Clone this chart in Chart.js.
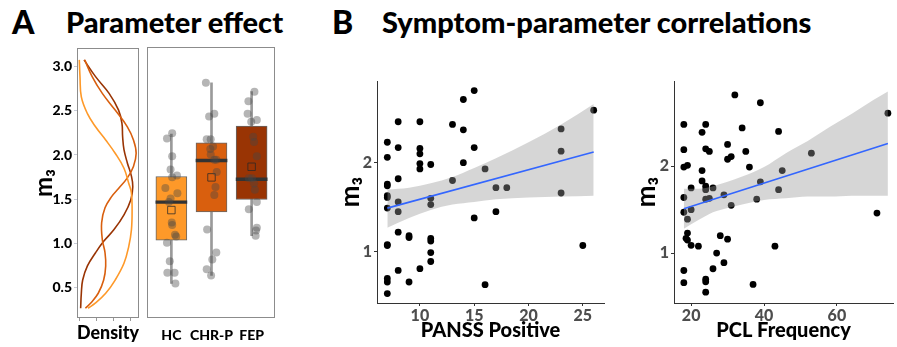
<!DOCTYPE html>
<html>
<head>
<meta charset="utf-8">
<script src="https://cdn.jsdelivr.net/npm/chart.js@4.4.0/dist/chart.umd.min.js"></script>
<style>
body { margin: 0; width: 897px; height: 347px; background: #fff; position: relative; overflow: hidden; font-family: Lato, 'DejaVu Sans', sans-serif; }
canvas { position: absolute; top: 0; }
.hd { position: absolute; font-weight: 900; color: #000; white-space: nowrap; line-height: 1; }
</style>
</head>
<body>
<div class="hd" style="left:12px;top:6px;font-size:32px">A</div>
<div class="hd" style="left:66px;top:7px;font-size:29px">Parameter effect</div>
<div class="hd" style="left:332px;top:6px;font-size:32px">B</div>
<div class="hd" style="left:382px;top:7px;font-size:29px">Symptom-parameter correlations</div>
<canvas id="dens" width="112" height="347" style="left:28px"></canvas>
<canvas id="box" width="142" height="347" style="left:140px"></canvas>
<canvas id="panss" width="280" height="347" style="left:330px"></canvas>
<canvas id="pcl" width="287" height="347" style="left:610px"></canvas>
<script>
const FONT = "Lato, 'DejaVu Sans', sans-serif";

const groups = ['HC', 'CHR-P', 'FEP'];
const groupColors = ['#fe9929', '#d95f0e', '#993404'];
const m3Ticks = [0.5, 1.0, 1.5, 2.0, 2.5, 3.0];
const densTicks = [0, 0.25, 0.5, 0.75];

// density curves: m3 value and density
const densM3HC = [3.08, 2.89, 2.66, 2.47, 2.32, 2.17, 2.02, 1.85, 1.68, 1.57, 1.38, 1.15, 0.96, 0.77, 0.58, 0.43, 0.32, 0.26];
const densHC   = [0.00, 0.01, 0.03, 0.12, 0.24, 0.39, 0.53, 0.66, 0.73, 0.77, 0.78, 0.77, 0.73, 0.66, 0.53, 0.39, 0.24, 0.13];
const densM3CHR = [3.08, 2.89, 2.70, 2.51, 2.32, 2.17, 2.02, 1.87, 1.74, 1.62, 1.53, 1.40, 1.23, 1.04, 0.89, 0.74, 0.58, 0.43, 0.32, 0.26];
const densCHR   = [0.08, 0.19, 0.34, 0.53, 0.71, 0.80, 0.84, 0.80, 0.71, 0.58, 0.48, 0.38, 0.33, 0.34, 0.38, 0.39, 0.36, 0.28, 0.17, 0.09];
const densM3FEP = [3.08, 2.89, 2.70, 2.51, 2.36, 2.21, 2.06, 1.91, 1.76, 1.64, 1.49, 1.32, 1.15, 1.02, 0.89, 0.74, 0.58, 0.43, 0.26];
const densFEP   = [0.07, 0.24, 0.44, 0.58, 0.63, 0.64, 0.66, 0.71, 0.77, 0.79, 0.76, 0.66, 0.51, 0.36, 0.24, 0.12, 0.05, 0.03, 0.02];

// box plot stats per group
const boxQ1   = [1.03, 1.35, 1.49];
const boxMed  = [1.46, 1.93, 1.72];
const boxQ3   = [1.75, 2.13, 2.32];
const boxMean = [1.37, 1.74, 1.86];
const whiskLo = [0.54, 0.63, 1.08];
const whiskHi = [2.23, 2.81, 2.71];

// jittered points (x = group position 1..3 + jitter)
const hcJitX = [1.02, 0.89, 1.02, 0.98, 1.02, 1.14, 0.85, 1.15, 0.98, 0.94, 1.01, 1.02, 1.09, 1.12, 0.89, 0.96, 0.90, 1.08, 1.10];
const hcJitY = [2.24, 2.18, 1.98, 1.83, 1.74, 1.76, 1.62, 1.56, 1.50, 1.46, 1.23, 1.20, 1.09, 1.07, 1.00, 0.79, 0.66, 0.66, 0.54];
const chrJitX = [1.86, 1.94, 2.07, 1.88, 1.98, 2.04, 1.97, 1.98, 2.07, 2.12, 2.13, 2.10, 2.07, 1.89, 2.12, 2.02, 1.88, 1.99];
const chrJitY = [2.81, 2.43, 2.46, 2.17, 2.17, 2.09, 2.06, 2.00, 1.94, 1.94, 1.80, 1.63, 1.54, 1.15, 0.89, 0.81, 0.70, 0.63];
const fepJitX = [3.07, 2.92, 2.90, 2.99, 3.13, 3.04, 3.06, 3.13, 2.93, 3.01, 3.06, 3.08, 3.13, 2.93, 3.13, 3.11, 3.10];
const fepJitY = [2.71, 2.60, 2.46, 2.37, 2.39, 2.20, 2.14, 1.98, 1.73, 1.73, 1.67, 1.60, 1.46, 1.38, 1.17, 1.14, 1.08];

// PANSS positive vs m3
const panssX = [7,7,7,7,7,7,7,7,7,7,7,7, 8,8,8,8,8,8,8, 9,9,9, 10,10,10,10,10,10, 11,11,11,11,11,11,11, 13,13, 14,14,14, 15,15,15, 16,16, 17,17, 18, 23,23,23, 25, 26];
const panssY = [2.23,2.06,1.76,1.74,1.63,1.61,1.49,1.08,1.07,0.70,0.66,0.53, 2.46,2.17,1.82,1.56,1.45,1.22,0.79, 1.18,1.16,0.66, 2.46,2.16,2.10,1.99,1.93,0.81, 1.98,1.60,1.53,1.15,1.12,0.99,0.89, 2.43,1.80, 2.71,2.37,2.00, 2.81,2.17,1.38, 1.93,0.63, 1.72,1.45, 1.72, 2.38,2.13,1.66, 1.07, 2.59];
const panssFitX = [7, 26];
const panssFitY = [1.49, 2.12];
const panssBandX  = [7, 9, 11, 13, 15, 17, 20, 23, 26];
const panssBandHi = [1.70, 1.72, 1.77, 1.84, 1.94, 2.05, 2.23, 2.43, 2.66];
const panssBandLo = [1.27, 1.38, 1.47, 1.53, 1.56, 1.59, 1.61, 1.62, 1.63];
const panssTicks = [10, 15, 20, 25];

// PCL frequency vs m3
const pclX = [18,18,18,19,18,18,19,19,18.6,19,20,20,20,18,18, 22,23,23,23,24,24,25,24,24,24,26,25,29,27,28,30,30,31,30,29,26,24,24,24, 37,36,34,32,35,31,38,39,39,43,44,44,45,53,71,74];
const pclY = [2.48,2.19,1.99,2.01,1.64,1.47,1.39,1.23,1.17,1.15,1.09,1.75,1.50,0.80,0.66, 1.08,2.39,1.95,1.83,2.48,2.20,2.17,1.77,1.73,1.62,1.75,1.63,1.67,1.00,1.20,2.25,2.08,2.11,1.16,0.89,0.82,0.70,0.67,0.55, 0.64,1.99,2.44,2.82,2.17,1.55,1.62,2.73,1.82,1.08,2.40,1.73,1.95,2.15,1.46,2.61];
const pclFitX = [18, 74];
const pclFitY = [1.51, 2.26];
const pclBandX  = [18, 22, 26, 30, 34, 40, 46, 52, 58, 64, 70, 74];
const pclBandHi = [1.74, 1.74, 1.77, 1.82, 1.88, 1.99, 2.15, 2.29, 2.45, 2.60, 2.76, 2.86];
const pclBandLo = [1.28, 1.38, 1.47, 1.52, 1.56, 1.61, 1.63, 1.65, 1.65, 1.66, 1.66, 1.66];
const pclTicks = [20, 40, 60];

const m3Ticks2 = [1, 2];

const frame = {
    id: 'frame',
    afterDraw(chart) {
        const a = chart.chartArea, ctx = chart.ctx;
        ctx.save();
        ctx.strokeStyle = '#8c8c8c';
        ctx.lineWidth = 1;
        ctx.strokeRect(Math.round(a.left) + 0.5, Math.round(a.top) + 0.5, Math.round(a.right - a.left) - 1, Math.round(a.bottom - a.top) - 1);
        ctx.restore();
    }
};

const pts = (xs, ys) => xs.map((x, i) => ({x: x, y: ys[i]}));
const fixTicks = vals => (s => { s.ticks = vals.map(v => ({value: v})); });

Chart.defaults.font.family = FONT;

// density panel
new Chart(document.getElementById('dens'), {
    type: 'scatter',
    data: {
        datasets: [
            {data: pts(densHC, densM3HC), borderColor: groupColors[0]},
            {data: pts(densCHR, densM3CHR), borderColor: groupColors[1]},
            {data: pts(densFEP, densM3FEP), borderColor: groupColors[2]}
        ].map(d => Object.assign(d, {showLine: true, pointRadius: 0, borderWidth: 1.6, tension: 0.4, fill: false}))
    },
    options: {
        responsive: false, animation: false, devicePixelRatio: 1,
        layout: {padding: {top: 48, right: 1, left: 0, bottom: 0}},
        plugins: {legend: {display: false}, tooltip: {enabled: false}},
        scales: {
            x: {
                type: 'linear', min: -0.034, max: 0.882,
                afterBuildTicks: fixTicks(densTicks),
                afterFit: s => { s.height = 29; },
                grid: {drawOnChartArea: false, tickLength: 3, color: '#999'},
                border: {display: false},
                ticks: {callback: () => '', padding: 0},
                title: {display: true, text: 'Density', color: '#000', font: {size: 18, weight: 900}, padding: {top: 0, bottom: 3}}
            },
            y: {
                min: 0.149, max: 3.215,
                afterBuildTicks: fixTicks(m3Ticks),
                afterFit: s => { s.width = 49; },
                grid: {drawOnChartArea: false, tickLength: 3, color: '#c8ccd8'},
                border: {display: false},
                ticks: {color: '#000', font: {size: 14, weight: 900}, padding: 2, callback: v => Number(v).toFixed(1)},
                title: {display: true, text: 'm₃', color: '#000', font: {size: 24, weight: 'bold', lineHeight: 1}, padding: {top: 4, bottom: 0}}
            }
        }
    },
    plugins: [frame]
});

// box plot panel
const jitX = hcJitX.concat(chrJitX, fepJitX);
const jitY = hcJitY.concat(chrJitY, fepJitY);
const gx = groups.map((g, i) => i + 1);

new Chart(document.getElementById('box'), {
    type: 'bar',
    data: {
        datasets: [
            {type: 'scatter', data: pts(jitX, jitY), backgroundColor: 'rgba(70,70,70,0.4)', pointRadius: 4, borderWidth: 0, order: 0},
            {type: 'scatter', data: pts(gx, boxMean), pointStyle: 'rect', pointRadius: 5.3, backgroundColor: 'rgba(0,0,0,0)', borderColor: 'rgba(40,40,40,0.75)', borderWidth: 1, order: 1},
            {data: gx.map((x, i) => ({x: x, y: [boxMed[i] - 0.016, boxMed[i] + 0.016]})), backgroundColor: '#333', barThickness: 31, grouped: false, order: 2},
            {data: gx.map((x, i) => ({x: x, y: [boxQ1[i], boxQ3[i]]})), backgroundColor: groupColors, borderColor: '#666', borderWidth: 1, borderSkipped: false, barThickness: 31, grouped: false, order: 3},
            {data: gx.map((x, i) => ({x: x, y: [whiskLo[i], whiskHi[i]]})), backgroundColor: '#9a9a9a', barThickness: 2, grouped: false, order: 4}
        ]
    },
    options: {
        responsive: false, animation: false, devicePixelRatio: 1,
        layout: {padding: {top: 47, right: 3.7, left: 7.3, bottom: 0}},
        plugins: {legend: {display: false}, tooltip: {enabled: false}},
        scales: {
            x: {
                type: 'linear', min: 0.4, max: 3.6, offset: false,
                afterBuildTicks: fixTicks(gx),
                afterFit: s => { s.height = 29; },
                grid: {display: false, drawTicks: false},
                border: {display: false},
                ticks: {color: '#000', font: {size: 14, weight: 900}, padding: 9, minRotation: 0, maxRotation: 0, autoSkip: false, callback: v => groups[v - 1]}
            },
            y: {display: false, min: 0.149, max: 3.215}
        }
    },
    plugins: [frame]
});

// scatter panels
function scatterPanel(id, xs, ys, fitX, fitY, bandX, bandLo, bandHi, xr, yr, xTicks, yAxisW, titlePad, padRight, xTitle) {
    new Chart(document.getElementById(id), {
        type: 'scatter',
        data: {
            datasets: [
                {data: pts(xs, ys), backgroundColor: '#000', pointRadius: 3.4, borderWidth: 0, order: 4},
                {type: 'line', data: pts(bandX, bandLo), borderWidth: 0, pointRadius: 0, fill: false, cubicInterpolationMode: 'monotone', order: 3},
                {type: 'line', data: pts(bandX, bandHi), borderWidth: 0, pointRadius: 0, fill: '-1', backgroundColor: 'rgba(153,153,153,0.4)', cubicInterpolationMode: 'monotone', order: 2},
                {type: 'line', data: pts(fitX, fitY), borderColor: '#3366ff', borderWidth: 1.6, pointRadius: 0, fill: false, order: 1}
            ]
        },
        options: {
            responsive: false, animation: false, devicePixelRatio: 1,
            layout: {padding: {top: 81, right: padRight, left: 0, bottom: 0}},
            plugins: {legend: {display: false}, tooltip: {enabled: false}},
            scales: {
                x: {
                    type: 'linear', min: xr[0], max: xr[1],
                    afterBuildTicks: fixTicks(xTicks),
                    afterFit: s => { s.height = 44; },
                    grid: {drawOnChartArea: false, tickLength: 3, color: '#333'},
                    border: {display: true, color: '#333', width: 1},
                    ticks: {color: '#4d4d4d', font: {size: 16, weight: 900}, padding: 0, maxRotation: 0, autoSkip: false},
                    title: {display: true, text: xTitle, color: '#000', font: {size: 20, weight: 900}, padding: {top: 0, bottom: 4}}
                },
                y: {
                    min: yr[0], max: yr[1],
                    afterBuildTicks: fixTicks(m3Ticks2),
                    afterFit: s => { s.width = yAxisW; },
                    grid: {drawOnChartArea: false, tickLength: 3, color: '#333'},
                    border: {display: true, color: '#333', width: 1},
                    ticks: {color: '#4d4d4d', font: {size: 16, weight: 900}, padding: 2},
                    title: {display: true, text: 'm₃', color: '#000', font: {size: 26, weight: 'bold', lineHeight: 1}, padding: {top: titlePad, bottom: 0}}
                }
            }
        }
    });
}

scatterPanel('panss', panssX, panssY, panssFitX, panssFitY, panssBandX, panssBandLo, panssBandHi,
    [6.05, 26.95], [0.424, 2.918], panssTicks, 47, 8, 6, 'PANSS Positive');
scatterPanel('pcl', pclX, pclY, pclFitX, pclFitY, pclBandX, pclBandLo, pclBandHi,
    [15.3, 75.4], [0.426, 2.98], pclTicks, 64, 24, 0, 'PCL Frequency');
</script>
</body>
</html>
